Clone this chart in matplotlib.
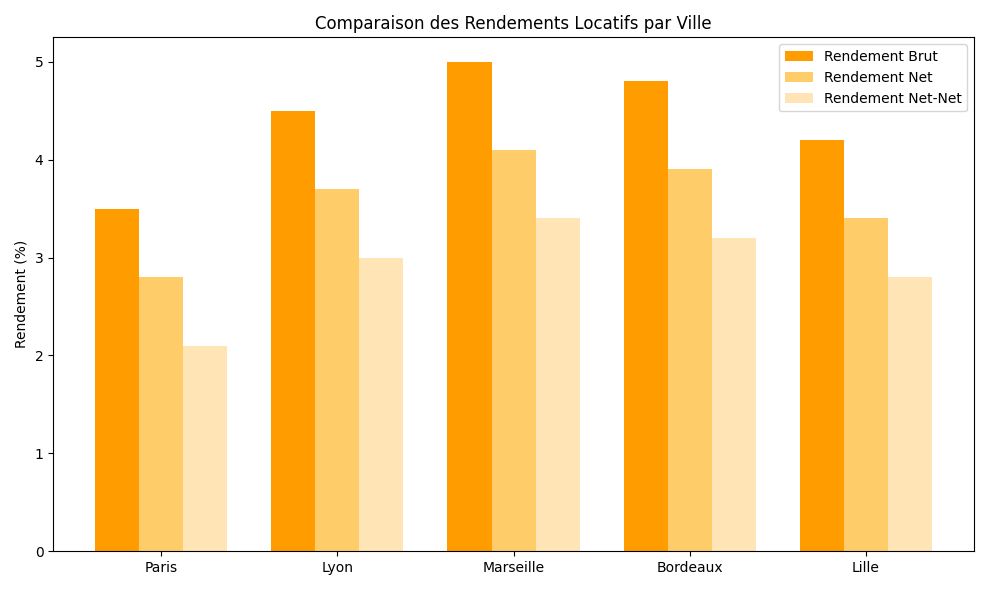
import numpy as np
import matplotlib.pyplot as plt

villes = ['Paris', 'Lyon', 'Marseille', 'Bordeaux', 'Lille']
rendement_brut = [3.5, 4.5, 5.0, 4.8, 4.2]
rendement_net = [2.8, 3.7, 4.1, 3.9, 3.4]
rendement_net_net = [2.1, 3.0, 3.4, 3.2, 2.8]

x = np.arange(len(villes))
largeur = 0.25

fig, ax = plt.subplots(figsize=(9.89, 5.9), dpi=100)
ax.bar(x - largeur, rendement_brut, largeur, label='Rendement Brut', color='#FF9C00')
ax.bar(x, rendement_net, largeur, label='Rendement Net', color='#FFCC6A')
ax.bar(x + largeur, rendement_net_net, largeur, label='Rendement Net-Net', color='#FFE4B5')

ax.set_ylabel('Rendement (%)')
ax.set_title('Comparaison des Rendements Locatifs par Ville')
ax.set_xticks(x)
ax.set_xticklabels(villes)
ax.legend()

plt.tight_layout()
plt.savefig('out.png')
